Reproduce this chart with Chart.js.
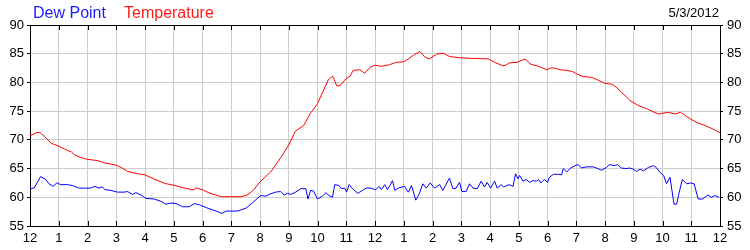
<!DOCTYPE html>
<html>
<head>
<meta charset="utf-8">
<script src="https://cdn.jsdelivr.net/npm/chart.js@4/dist/chart.umd.min.js"></script>
<style>
	html, body { margin: 0; padding: 0; background: #ffffff; }
	#chart-canvas { display: block; }
</style>
</head>
<body>
<canvas id="chart-canvas" width="750" height="250"></canvas>
<script>
// hours since midnight, 5/3/2012
const tempHours = [0, 0.25, 0.35, 0.5, 0.74, 1.0, 1.2, 1.44, 1.55, 1.78, 2.0, 2.35, 2.58, 3.0, 3.2, 3.4, 3.74, 4.0, 4.35, 4.7,
	5.0, 5.38, 5.67, 5.8, 6.0, 6.26, 6.66, 7.35, 7.58, 7.78, 8.0, 8.37, 8.71, 9.0, 9.23, 9.52, 9.75, 10.0, 10.2, 10.38,
	10.53, 10.67, 10.78, 10.98, 11.13, 11.24, 11.47, 11.64, 11.82, 12.0, 12.23, 12.51, 12.74, 13.0, 13.16, 13.33, 13.56, 13.74, 13.89, 14.14,
	14.37, 14.6, 14.94, 15.29, 15.94, 16.16, 16.44, 16.55, 16.67, 16.94, 17.23, 17.4, 17.69, 17.98, 18.09, 18.26, 18.44, 18.67, 18.87, 19.01,
	19.24, 19.53, 19.76, 19.99, 20.22, 20.34, 20.57, 20.86, 21.15, 21.44, 21.67, 21.87, 21.97, 22.2, 22.43, 22.63, 22.95, 23.2, 23.53, 23.87, 24.0];
const tempValues = [70.7, 71.3, 71.3, 70.6, 69.4, 68.9, 68.4, 67.9, 67.4, 66.9, 66.6, 66.4, 66.0, 65.6, 65.1, 64.5, 64.1, 63.9, 63.1, 62.4,
	62.1, 61.6, 61.3, 61.6, 61.3, 60.7, 60.1, 60.1, 60.45, 61.3, 62.7, 64.4, 66.8, 69.1, 71.5, 72.5, 74.6, 76.3, 78.5, 80.5,
	81.1, 79.4, 79.4, 80.6, 81.1, 82.1, 82.2, 81.6, 82.6, 83.0, 82.8, 83.1, 83.5, 83.6, 84.1, 84.7, 85.4, 84.4, 84.1, 84.9,
	85.1, 84.5, 84.3, 84.2, 84.1, 83.5, 82.9, 83.0, 83.4, 83.5, 84.1, 83.2, 82.8, 82.2, 82.5, 82.5, 82.2, 82.1, 81.9, 81.5,
	81.0, 80.9, 80.4, 79.85, 79.7, 79.4, 78.3, 76.9, 76.0, 75.45, 74.9, 74.5, 74.6, 74.8, 74.5, 74.8, 73.7, 73.0, 72.4, 71.6, 71.2];

const dewHours = [0, 0.14, 0.37, 0.55, 0.66, 0.81, 0.93, 1.07, 1.3, 1.47, 1.71, 1.94, 2.11, 2.26, 2.4, 2.52, 2.6, 2.81, 3.04, 3.28,
	3.39, 3.57, 3.68, 3.86, 4.03, 4.32, 4.55, 4.73, 4.9, 5.08, 5.31, 5.54, 5.71, 5.89, 6.18, 6.47, 6.68, 6.82, 7.22, 7.51,
	7.75, 8.02, 8.2, 8.37, 8.54, 8.72, 8.84, 8.95, 9.07, 9.24, 9.42, 9.59, 9.67, 9.76, 9.86, 10.0, 10.17, 10.29, 10.4, 10.52,
	10.6, 10.75, 10.83, 10.95, 11.01, 11.1, 11.22, 11.4, 11.57, 11.69, 11.86, 12.02, 12.14, 12.22, 12.34, 12.43, 12.52, 12.61, 12.69, 12.81,
	13.02, 13.16, 13.27, 13.42, 13.54, 13.66, 13.78, 13.92, 14.07, 14.25, 14.36, 14.59, 14.71, 14.82, 14.94, 15.02, 15.17, 15.29, 15.41, 15.56,
	15.69, 15.81, 15.9, 16.02, 16.16, 16.25, 16.39, 16.48, 16.66, 16.8, 16.89, 16.97, 17.03, 17.15, 17.26, 17.38, 17.49, 17.61, 17.69, 17.77,
	17.89, 18.0, 18.07, 18.21, 18.38, 18.49, 18.55, 18.67, 18.78, 18.95, 19.07, 19.18, 19.36, 19.59, 19.76, 19.87, 20.05, 20.16, 20.33, 20.43,
	20.57, 20.74, 20.86, 20.98, 21.1, 21.22, 21.34, 21.51, 21.69, 21.8, 21.9, 22.04, 22.14, 22.26, 22.4, 22.49, 22.57, 22.69, 22.84, 22.98,
	23.1, 23.24, 23.4, 23.58, 23.7, 23.82, 23.97];
const dewValues = [61.5, 61.6, 63.6, 63.1, 62.35, 61.9, 62.5, 62.2, 62.2, 62.06, 61.6, 61.6, 61.6, 61.9, 61.6, 61.8, 61.35, 61.2, 60.9, 60.9,
	61.0, 60.5, 60.8, 60.4, 59.8, 59.7, 59.3, 58.8, 59.0, 58.9, 58.35, 58.35, 58.9, 58.7, 58.1, 57.6, 57.2, 57.6, 57.6, 58.1,
	59.1, 60.3, 60.2, 60.6, 60.9, 61.0, 60.4, 60.7, 60.5, 60.9, 61.5, 61.5, 59.7, 61.2, 61.1, 59.7, 60.2, 60.8, 60.3, 60.0,
	62.2, 62.06, 61.5, 61.6, 60.9, 62.2, 61.5, 60.7, 61.2, 61.6, 61.6, 61.3, 61.9, 61.35, 62.2, 61.35, 62.06, 62.9, 61.2, 61.6,
	61.9, 60.9, 62.06, 59.5, 60.6, 62.35, 61.6, 62.5, 61.6, 62.2, 61.2, 63.35, 61.5, 61.6, 62.6, 61.0, 61.0, 62.35, 61.6, 61.5,
	62.8, 61.8, 62.6, 61.6, 62.8, 61.6, 62.2, 61.8, 62.2, 61.9, 64.1, 63.2, 63.8, 62.8, 63.1, 62.6, 62.9, 62.8, 63.1, 62.5,
	63.1, 62.6, 63.5, 64.0, 64.0, 63.9, 65.0, 64.4, 65.0, 65.5, 65.7, 65.1, 65.3, 65.3, 65.0, 64.7, 65.2, 65.7, 65.5, 65.7,
	65.1, 65.0, 65.1, 64.9, 64.5, 64.9, 64.6, 65.2, 65.5, 65.1, 64.4, 63.8, 62.35, 63.5, 58.8, 58.8, 60.6, 63.1, 62.35, 62.5,
	62.35, 59.7, 59.7, 60.4, 60.0, 60.3, 60.0];

const yMin = 55;
const yMax = 90;
const hourTicks = [0, 1, 2, 3, 4, 5, 6, 7, 8, 9, 10, 11, 12, 13, 14, 15, 16, 17, 18, 19, 20, 21, 22, 23, 24];
const chartDate = "5/3/2012";

const textFont = "'Liberation Sans', Arial, sans-serif";

function toPoints(xs, ys)
{
	let pts = [];
	for(let i = 0; i < xs.length; i++)
		pts.push({ x : xs[i], y : ys[i] });
	return pts;
}

// header texts, top border and inside hour ticks
const framePlugin = {
	id : "frame",
	afterDraw(chart)
	{
		const ctx = chart.ctx;
		const area = chart.chartArea;
		const xScale = chart.scales.x;
		ctx.save();
		ctx.strokeStyle = "#000000";
		ctx.lineWidth = 1;
		ctx.beginPath();
		ctx.moveTo(area.left, area.top + 0.5);
		ctx.lineTo(area.right, area.top + 0.5);
		for(let h of hourTicks)
		{
			if(h == 0 || h == 24)
				continue;
			const px = Math.round(xScale.getPixelForValue(h)) + 0.5;
			ctx.moveTo(px, area.top);
			ctx.lineTo(px, area.top + 5);
			ctx.moveTo(px, area.bottom);
			ctx.lineTo(px, area.bottom - 5);
		}
		ctx.stroke();

		ctx.textBaseline = "alphabetic";
		ctx.font = "16px " + textFont;
		ctx.textAlign = "left";
		ctx.fillStyle = "#1a1aff";
		ctx.fillText("Dew Point", 33, 18);
		ctx.fillStyle = "#ff1a1a";
		ctx.fillText("Temperature", 124, 18);
		ctx.font = "13px " + textFont;
		ctx.textAlign = "right";
		ctx.fillStyle = "#000000";
		ctx.fillText(chartDate, 719, 17);
		ctx.restore();
	}
};

new Chart(document.getElementById("chart-canvas").getContext("2d"),
{
	type : "line",
	data :
	{
		datasets :
		[{
			label : "Temperature",
			data : toPoints(tempHours, tempValues),
			borderColor : "#ff0000",
			borderWidth : 1,
			pointRadius : 0,
			tension : 0
		},
		{
			label : "Dew Point",
			data : toPoints(dewHours, dewValues),
			borderColor : "#0000ff",
			borderWidth : 1,
			pointRadius : 0,
			tension : 0
		}]
	},
	options :
	{
		responsive : false,
		animation : false,
		devicePixelRatio : 1,
		layout : { padding : { top : 25, left : 0, right : 0, bottom : 0 } },
		plugins :
		{
			legend : { display : false },
			tooltip : { enabled : false }
		},
		scales :
		{
			x :
			{
				type : "linear",
				min : 0,
				max : 24,
				afterBuildTicks : (scale) => { scale.ticks = hourTicks.map(v => ({ value : v })); },
				afterFit : (scale) => { scale.height = 24; },
				grid : { color : "#cccccc", drawTicks : false },
				border : { color : "#000000" },
				ticks :
				{
					padding : 5,
					maxRotation : 0,
					autoSkip : false,
					color : "#000000",
					font : { family : textFont, size : 13 },
					callback : (v) => (v % 12 == 0 ? 12 : v % 12)
				}
			},
			y :
			{
				position : "left",
				min : yMin,
				max : yMax,
				afterFit : (scale) => { scale.width = 30; },
				grid : { color : "#cccccc", tickColor : "#000000", tickLength : 3 },
				border : { color : "#000000" },
				ticks :
				{
					stepSize : 5,
					padding : 3,
					color : "#000000",
					font : { family : textFont, size : 13 }
				}
			},
			y2 :
			{
				position : "right",
				min : yMin,
				max : yMax,
				afterFit : (scale) => { scale.width = 30; },
				grid : { drawOnChartArea : false, tickColor : "#000000", tickLength : 3 },
				border : { color : "#000000" },
				ticks :
				{
					stepSize : 5,
					padding : 4,
					color : "#000000",
					font : { family : textFont, size : 13 }
				}
			}
		}
	},
	plugins : [framePlugin]
});
</script>
</body>
</html>
